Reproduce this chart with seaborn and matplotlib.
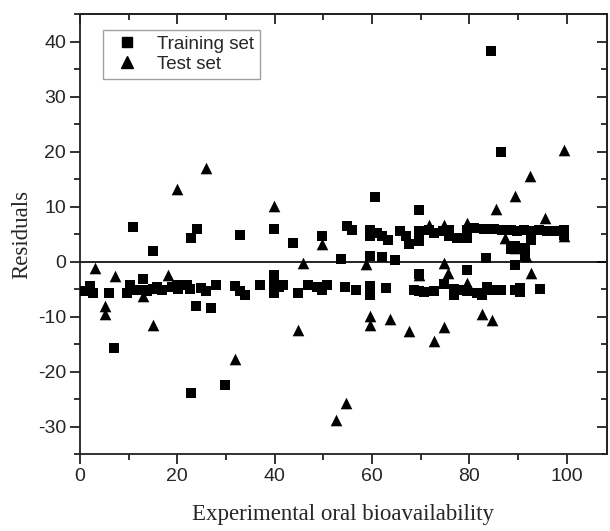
import matplotlib
matplotlib.use("Agg")
import matplotlib.pyplot as plt
from matplotlib.ticker import MultipleLocator
from matplotlib.lines import Line2D
import seaborn as sns
import pandas as pd

train_x = [0.9, 2.1, 2.7, 6.0, 7.0, 9.6, 10.3, 11.0, 11.0, 13.0, 13.0, 13.7, 15.1, 15.0,
           15.8, 16.9, 18.9, 19.9, 20.2, 22.0, 22.6, 22.8, 24.0, 23.9, 22.8, 24.9, 25.9,
           26.9, 27.9, 29.8, 31.9, 32.9, 34.0, 32.8, 36.9, 39.8, 39.8, 39.8, 39.8, 40.8,
           41.8, 43.8, 44.8, 46.8, 49.7, 48.7, 49.7, 50.7, 53.6, 54.5, 54.9, 55.9, 56.7,
           59.7, 59.7, 59.7, 59.7, 59.7, 60.7, 61.0, 62.1, 62.1, 62.8, 63.4, 64.7, 65.7,
           66.9, 67.6, 68.6, 69.6, 69.6, 69.6, 69.6, 69.6, 70.6, 71.7, 72.7, 72.7, 74.7,
           74.8, 75.8, 75.8, 76.8, 76.8, 77.5, 77.8, 79.6, 79.6, 79.6, 79.6, 80.9, 81.6,
           82.6, 83.0, 83.5, 83.6, 84.4, 84.7, 85.0, 86.6, 86.6, 86.8, 88.5, 88.5, 89.5,
           89.5, 89.5, 89.8, 90.5, 90.5, 91.2, 91.4, 91.4, 92.6, 92.6, 94.3, 94.5, 96.0,
           98.1, 99.4, 99.4]
train_y = [-5.3, -4.5, -5.8, -5.7, -15.7, -5.7, -4.2, -5.1, 6.2, -3.1, -5.1, -5.4, -5.0, 2.0,
           -4.7, -5.1, -4.6, -4.3, -5.0, -4.3, -5.0, 4.3, 6.0, -8.1, -23.9, -4.8, -5.3,
           -8.5, -4.3, -22.4, -4.5, -5.3, -6.1, 4.8, -4.3, 6.0, -2.5, -4.2, -5.7, -4.6,
           -4.2, 3.4, -5.8, -4.2, 4.6, -4.6, -5.1, -4.3, 0.4, -4.6, 6.4, 5.7, -5.2,
           -4.5, -6.0, 1.0, 5.8, 4.6, 11.7, 5.2, 4.6, 0.9, -4.8, 4.0, 0.2, 5.6,
           4.6, 3.1, -5.1, -5.4, 9.3, 5.5, 3.7, -2.2, -5.6, 5.8, 5.2, -5.4, 5.5,
           -4.0, 5.8, 4.6, -5.0, -6.0, 4.3, -5.2, 5.8, 4.3, -1.6, -5.4, 6.1, -5.7,
           -6.0, 6.0, 0.7, -4.6, 38.2, -5.1, 6.0, 19.9, -5.1, 5.8, 5.8, 2.2, 2.8,
           -0.7, -5.1, 5.5, -4.8, -5.6, 5.8, 2.5, 1.0, 5.5, 4.0, 5.8, -5.0, 5.5,
           5.5, 5.8, 4.9]

test_x = [3.1, 5.1, 5.1, 7.1, 13.0, 15.0, 18.0, 19.9, 25.9, 31.9, 39.8, 44.8, 45.8, 49.7,
          52.7, 54.7, 58.8, 59.7, 59.7, 63.8, 67.7, 69.6, 71.7, 72.7, 74.8, 74.8, 74.8,
          75.6, 79.6, 79.6, 82.6, 84.7, 85.6, 87.4, 89.5, 89.5, 91.6, 92.4, 92.6, 95.5,
          99.4, 99.4]
test_y = [-1.2, -8.0, -9.6, -2.7, -6.3, -11.6, -2.4, 13.1, 17.0, -17.7, 10.1, -12.4, -0.2, 3.1,
          -28.9, -25.7, -0.4, -9.9, -11.6, -10.4, -12.7, -2.4, 6.7, -14.5, -11.9, 6.7, -0.2,
          -2.1, 7.0, -3.9, -9.6, -10.7, 9.6, 4.3, 11.9, 2.5, 1.0, 15.5, -2.1, 7.9,
          20.2, 4.6]

series_names = ["Training set", "Test set"]

train_df = pd.DataFrame({"x": train_x, "y": train_y})
test_df = pd.DataFrame({"x": test_x, "y": test_y})

sns.set_style("ticks")
plt.rcParams["font.family"] = ["Liberation Sans", "DejaVu Sans"]
plt.rcParams["axes.unicode_minus"] = False

fig = plt.figure(figsize=(6.10, 5.31), dpi=100)
ax = fig.add_axes([0.1311, 0.1450, 0.8639, 0.8286])

sns.scatterplot(data=train_df, x="x", y="y", marker="s", color="black", s=44,
                linewidth=0, ax=ax, legend=False, zorder=3)
sns.scatterplot(data=test_df, x="x", y="y", marker="^", color="black", s=70,
                linewidth=0, ax=ax, legend=False, zorder=3)

ax.axhline(0, color="black", linewidth=1.2, zorder=1)

ax.set_xlim(0, 108.3)
ax.set_ylim(-35, 45)
ax.xaxis.set_major_locator(MultipleLocator(20))
ax.xaxis.set_minor_locator(MultipleLocator(10))
ax.yaxis.set_major_locator(MultipleLocator(10))
ax.yaxis.set_minor_locator(MultipleLocator(5))

ax.tick_params(which="both", direction="out", top=False, right=False, width=1.3, color="#222222")
ax.tick_params(which="major", length=7, labelsize=14, pad=3)
ax.tick_params(which="minor", length=4)

sec_x = ax.secondary_xaxis("top")
sec_x.xaxis.set_major_locator(MultipleLocator(20))
sec_x.xaxis.set_minor_locator(MultipleLocator(10))
sec_x.tick_params(which="both", direction="in", labeltop=False, width=1.3, color="#222222")
sec_x.tick_params(which="major", length=7)
sec_x.tick_params(which="minor", length=4)
sec_y = ax.secondary_yaxis("right")
sec_y.yaxis.set_major_locator(MultipleLocator(10))
sec_y.yaxis.set_minor_locator(MultipleLocator(5))
sec_y.tick_params(which="both", direction="in", labelright=False, width=1.3, color="#222222")
sec_y.tick_params(which="major", length=7)
sec_y.tick_params(which="minor", length=4)
for sp in list(sec_x.spines.values()) + list(sec_y.spines.values()):
    sp.set_linewidth(1.3)

for sp in ax.spines.values():
    sp.set_visible(True)
    sp.set_linewidth(1.3)
    sp.set_color("#222222")

ax.set_xlabel("Experimental oral bioavailability", family=["Liberation Serif"], fontsize=16.5, labelpad=14)
ax.set_ylabel("Residuals", family=["Liberation Serif"], fontsize=16.5, labelpad=4)

handles = [Line2D([], [], marker="s", color="black", linestyle="none", markersize=7),
           Line2D([], [], marker="^", color="black", linestyle="none", markersize=9)]
leg = ax.legend(handles, series_names, loc="upper left", bbox_to_anchor=(0.043, 0.963),
                fontsize=13.5, frameon=True, fancybox=False, edgecolor="#888888",
                borderpad=0.3, labelspacing=0.15, handletextpad=0.6, borderaxespad=0)
leg.get_frame().set_linewidth(1.0)

fig.savefig("out.png", dpi=100)
